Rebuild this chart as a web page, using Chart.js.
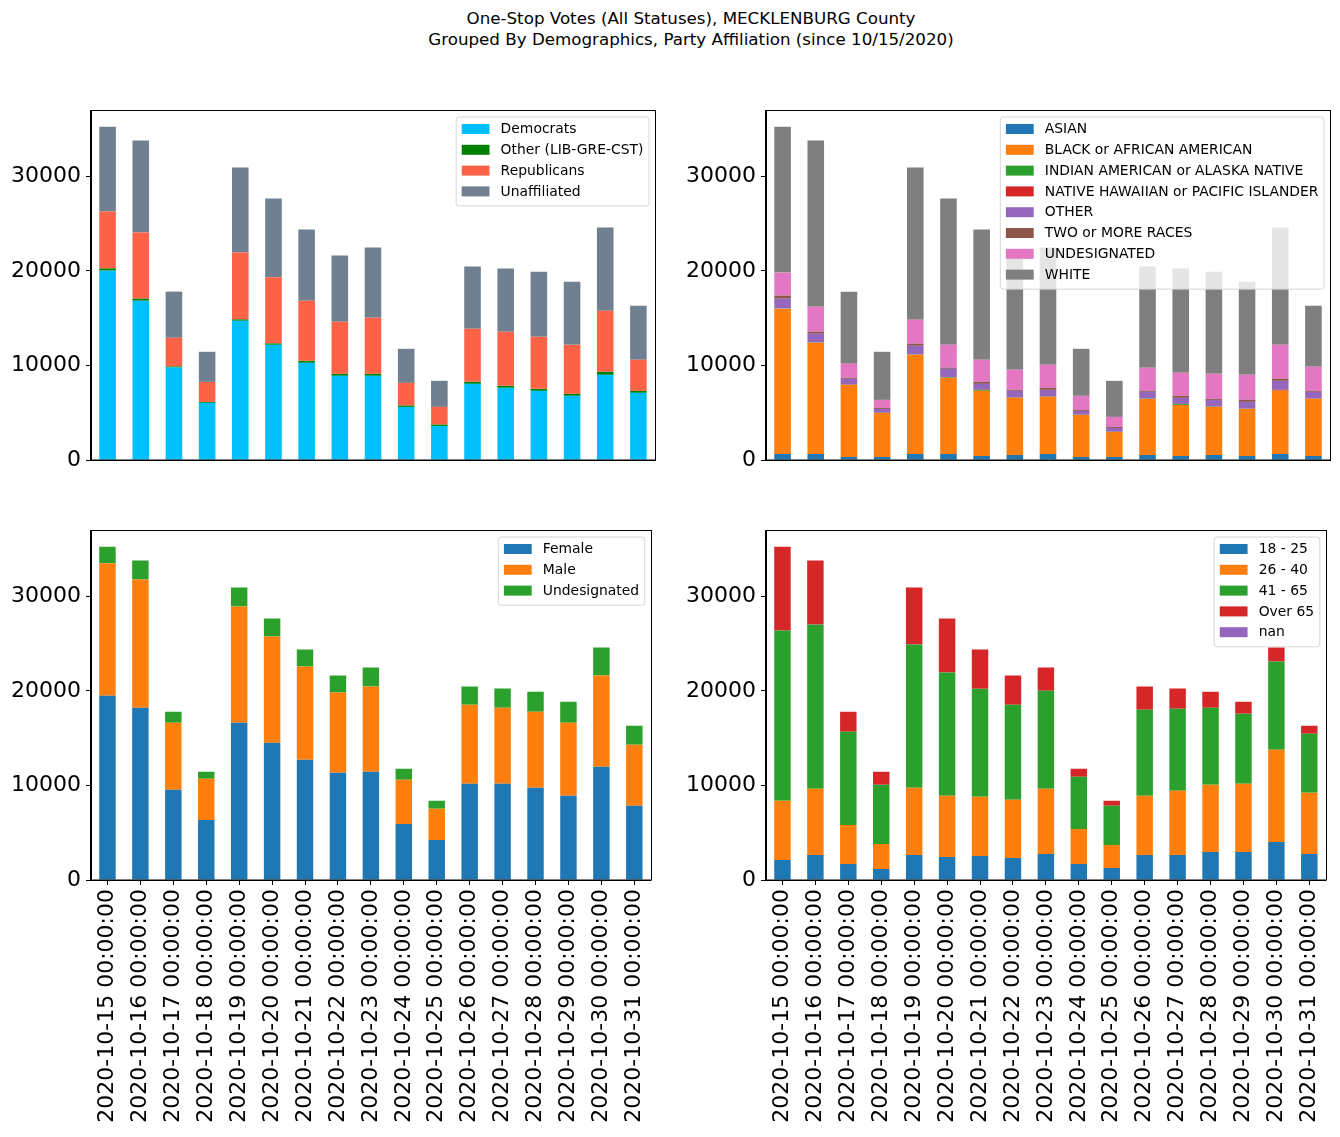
<!DOCTYPE html>
<html>
<head>
<meta charset="utf-8">
<script src="https://cdn.jsdelivr.net/npm/chart.js@4"></script>
<style>
  html, body { margin: 0; padding: 0; background: #fff; }
  body { width: 1340px; height: 1137px; position: relative; overflow: hidden; }
  #title { position: absolute; left: 391px; width: 600px; top: 8px; text-align: center;
           font-family: "DejaVu Sans"; font-size: 16.7px; line-height: 21px; color: #000; white-space: nowrap; }
  canvas { position: absolute; }
</style>
</head>
<body>
<div id="title">One-Stop Votes (All Statuses), MECKLENBURG County<br>Grouped By Demographics, Party Affiliation (since 10/15/2020)</div>
<canvas id="c1" width="665" height="430" style="left:0px;top:60px"></canvas>
<canvas id="c2" width="665" height="430" style="left:675px;top:60px"></canvas>
<canvas id="c3" width="665" height="657" style="left:0px;top:480px"></canvas>
<canvas id="c4" width="665" height="657" style="left:675px;top:480px"></canvas>
<script>
// ---- categories & ticks ----
const dates = ["2020-10-15 00:00:00","2020-10-16 00:00:00","2020-10-17 00:00:00","2020-10-18 00:00:00",
  "2020-10-19 00:00:00","2020-10-20 00:00:00","2020-10-21 00:00:00","2020-10-22 00:00:00",
  "2020-10-23 00:00:00","2020-10-24 00:00:00","2020-10-25 00:00:00","2020-10-26 00:00:00",
  "2020-10-27 00:00:00","2020-10-28 00:00:00","2020-10-29 00:00:00","2020-10-30 00:00:00","2020-10-31 00:00:00"];
const yTicks = [0, 10000, 20000, 30000];
const yMax = 37002;

// ---- party ----
const democrats     = [20020,16840,9780,6040,14720,12180,10275,8900,8900,5615,3600,8050,7630,7310,6780,9000,7100];
const otherParty    = [230,210,110,100,140,140,210,210,210,140,140,210,210,210,210,320,210];
const republicans   = [6020,6995,3030,2120,7070,6995,6360,5510,5930,2400,1875,5615,5720,5510,5190,6460,3285];
const unaffiliated  = [8970,9745,4880,3180,9000,8335,7520,6990,7415,3600,2755,6570,6675,6885,6675,8790,5720];

// ---- race ----
const asian         = [635,635,320,320,635,635,425,530,635,320,320,530,425,530,425,635,425];
const black         = [15360,11760,7625,4660,10485,8050,6885,6040,6040,4450,2650,5930,5400,5085,4980,6675,6040];
const indianAm      = [20,15,10,10,15,60,100,15,15,10,10,15,100,15,15,15,10];
const nativeHaw     = [10,10,5,5,10,10,10,10,10,5,5,10,10,10,10,100,10];
const otherRace     = [1030,925,620,405,930,885,630,715,715,405,405,720,635,715,715,945,720];
const twoOrMore     = [320,210,105,105,210,105,210,105,210,105,105,105,210,105,210,210,105];
const undesigRace   = [2435,2650,1485,850,2540,2435,2330,2120,2435,1485,1060,2435,2435,2650,2650,3600,2545];
const white         = [15430,17585,7630,5085,16105,15470,13775,12075,12395,4975,3815,10700,11020,10805,9850,12390,6460];

// ---- gender ----
const female        = [19490,18220,9535,6355,16630,14510,12710,11335,11440,5930,4235,10170,10170,9745,8900,11970,7840];
const male          = [13985,13560,7095,4345,12290,11230,9855,8475,9005,4665,3285,8370,8050,8050,7730,9640,6460];
const undesigGender = [1765,2010,1170,740,2010,1910,1800,1800,2010,1160,850,1905,2015,2120,2225,2960,2015];

// ---- age ----
const age18_25      = [2120,2650,1695,1165,2650,2435,2540,2330,2755,1695,1270,2650,2650,2965,2965,4025,2755];
const age26_40      = [6250,6990,4130,2650,7095,6465,6250,6145,6885,3705,2440,6250,6780,7100,7205,9745,6460];
const age41_65      = [18010,17370,9850,6250,15150,13030,11440,10065,10380,5510,4130,9110,8685,8155,7415,9320,6250];
const ageOver65     = [8860,6780,2125,1375,6035,5720,4135,3070,2435,845,530,2435,2120,1695,1270,1480,850];
const ageNan        = [0,0,0,0,0,0,0,0,0,0,0,0,0,0,0,0,0];

Chart.defaults.font.family = '"DejaVu Sans"';
Chart.defaults.color = '#000';
Chart.defaults.animation = false;

const framePlugin = {
  id: 'mplFrame',
  afterDatasetsDraw(chart) {
    const ctx = chart.ctx, a = chart.chartArea;
    ctx.save();
    ctx.strokeStyle = '#000'; ctx.lineWidth = 1;
    ctx.strokeRect(Math.round(a.left) - 0.5, Math.round(a.top) + 0.5,
                   Math.round(a.right - a.left) + 1, Math.round(a.bottom - a.top) - 0.5);
    const fs = 13.9;
    ctx.font = fs + 'px "DejaVu Sans"';
    const ds = chart.data.datasets;
    const maxW = Math.max(...ds.map(d => ctx.measureText(d.label).width));
    const pad = 5.6, hl = 27.8, htp = 11.1;
    const w = pad + hl + htp + maxW + pad;
    const h = 26.6 + (ds.length - 1) * 20.8;
    const x0 = a.right - 6 - w, y0 = a.top + 7;
    ctx.beginPath();
    ctx.roundRect(x0, y0, w, h, 3);
    ctx.fillStyle = 'rgba(255,255,255,0.8)'; ctx.fill();
    ctx.strokeStyle = 'rgba(204,204,204,0.8)'; ctx.lineWidth = 1; ctx.stroke();
    ds.forEach((d, i) => {
      const cy = y0 + 12 + i * 20.8;
      ctx.fillStyle = d.backgroundColor;
      ctx.fillRect(x0 + pad, cy - 5, hl, 10);
      ctx.fillStyle = '#000'; ctx.textBaseline = 'middle'; ctx.textAlign = 'left';
      ctx.fillText(d.label, x0 + pad + hl + htp, cy + 0.5);
    });
    ctx.restore();
  }
};

function makeChart(id, series, showX) {
  const canvas = document.getElementById(id);
  const H = canvas.height;
  const xAxisH = H - 50 - 350;
  new Chart(canvas, {
    type: 'bar',
    data: {
      labels: dates,
      datasets: series.map(s => ({ label: s[0], data: s[1], backgroundColor: s[2],
        borderWidth: 0, barPercentage: 0.5, categoryPercentage: 1.0 }))
    },
    options: {
      responsive: false,
      maintainAspectRatio: false,
      layout: { padding: { top: 50, right: 10, left: 0, bottom: 0 } },
      plugins: { legend: { display: false }, tooltip: { enabled: false }, title: { display: false } },
      scales: {
        x: {
          stacked: true,
          offset: true,
          border: { display: true, color: '#000', width: 1 },
          grid: { display: showX, drawOnChartArea: false, drawTicks: true, tickLength: 5,
                  offset: false, color: '#000', lineWidth: 1 },
          ticks: { display: showX, autoSkip: false, minRotation: 90, maxRotation: 90,
                   padding: 4, font: { size: 22 }, color: '#000' },
          afterFit(scale) { scale.height = xAxisH; }
        },
        y: {
          stacked: true,
          min: 0, max: yMax,
          border: { display: true, color: '#000', width: 1 },
          grid: { display: true, drawOnChartArea: false, drawTicks: true, tickLength: 5,
                  color: '#000', lineWidth: 1 },
          ticks: { padding: 5, font: { size: 22 }, color: '#000', callback: v => String(v) },
          afterBuildTicks(scale) { scale.ticks = yTicks.map(v => ({ value: v })); },
          afterFit(scale) { scale.width = 91; }
        }
      }
    },
    plugins: [framePlugin]
  });
}

makeChart('c1', [
  ['Democrats', democrats, '#00bfff'],
  ['Other (LIB-GRE-CST)', otherParty, '#008000'],
  ['Republicans', republicans, '#ff6347'],
  ['Unaffiliated', unaffiliated, '#708090']
], false);

makeChart('c2', [
  ['ASIAN', asian, '#1f77b4'],
  ['BLACK or AFRICAN AMERICAN', black, '#ff7f0e'],
  ['INDIAN AMERICAN or ALASKA NATIVE', indianAm, '#2ca02c'],
  ['NATIVE HAWAIIAN or PACIFIC ISLANDER', nativeHaw, '#d62728'],
  ['OTHER', otherRace, '#9467bd'],
  ['TWO or MORE RACES', twoOrMore, '#8c564b'],
  ['UNDESIGNATED', undesigRace, '#e377c2'],
  ['WHITE', white, '#7f7f7f']
], false);

makeChart('c3', [
  ['Female', female, '#1f77b4'],
  ['Male', male, '#ff7f0e'],
  ['Undesignated', undesigGender, '#2ca02c']
], true);

makeChart('c4', [
  ['18 - 25', age18_25, '#1f77b4'],
  ['26 - 40', age26_40, '#ff7f0e'],
  ['41 - 65', age41_65, '#2ca02c'],
  ['Over 65', ageOver65, '#d62728'],
  ['nan', ageNan, '#9467bd']
], true);
</script>
</body>
</html>
